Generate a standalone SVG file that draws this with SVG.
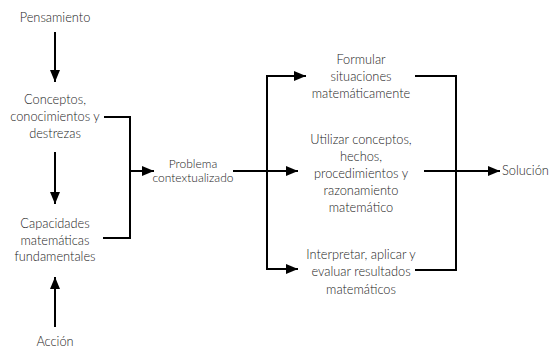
<svg xmlns="http://www.w3.org/2000/svg" width="549" height="349" viewBox="0 0 549 349">
  <defs>
    <marker id="ah" markerUnits="userSpaceOnUse" markerWidth="12" markerHeight="10" refX="12" refY="5" orient="auto">
      <path d="M0,0 L12,5 L0,10 z" fill="#000"/>
    </marker>
    <style>
      text { font-family: "Lato", "Open Sans", sans-serif; font-weight: 300; font-size: 12.8px; fill: #222; text-anchor: middle; }
      .sm { font-size: 12px; }
      .ln { fill: none; stroke: #000; stroke-width: 2; }
      .ar { fill: none; stroke: #000; stroke-width: 2; marker-end: url(#ah); }
    </style>
  </defs>
  <rect width="549" height="349" fill="#fff"/>

  <g id="pensamiento"><text x="55" y="22">Pensamiento</text></g>
  <g id="conceptos">
    <text x="55" y="104">Conceptos,</text>
    <text x="55" y="121">conocimientos y</text>
    <text x="55" y="138">destrezas</text>
  </g>
  <g id="capacidades">
    <text x="55" y="228">Capacidades</text>
    <text x="55" y="245">matemáticas</text>
    <text x="55" y="261">fundamentales</text>
  </g>
  <g id="accion"><text x="55" y="346">Acción</text></g>
  <g id="problema">
    <text class="sm" x="193" y="168">Problema</text>
    <text class="sm" x="193" y="182">contextualizado</text>
  </g>
  <g id="formular">
    <text x="361" y="64">Formular</text>
    <text x="361" y="81">situaciones</text>
    <text x="361" y="98">matemáticamente</text>
  </g>
  <g id="utilizar">
    <text x="361" y="144">Utilizar conceptos,</text>
    <text x="361" y="161">hechos,</text>
    <text x="361" y="178">procedimientos y</text>
    <text x="361" y="195">razonamiento</text>
    <text x="361" y="212">matemático</text>
  </g>
  <g id="interpretar">
    <text x="361" y="259">Interpretar, aplicar y</text>
    <text x="361" y="276">evaluar resultados</text>
    <text x="361" y="294">matemáticos</text>
  </g>
  <g id="solucion"><text x="502" y="175" style="text-anchor:start">Solución</text></g>

  <g id="connectors">
    <line class="ar" x1="55" y1="32" x2="55" y2="82"/>
    <line class="ar" x1="55" y1="152" x2="55" y2="204"/>
    <line class="ar" x1="55" y1="327" x2="55" y2="277"/>
    <polyline class="ln" points="104,117 130,117 130,238 103,238"/>
    <line class="ar" x1="130" y1="171" x2="154" y2="171"/>
    <line class="ln" x1="233" y1="171" x2="268" y2="171"/>
    <polyline class="ln" points="305,76 267,76 267,269 298,269"/>
    <line class="ar" x1="267" y1="76" x2="306" y2="76"/>
    <line class="ar" x1="267" y1="171" x2="298" y2="171"/>
    <line class="ar" x1="267" y1="269" x2="298" y2="269"/>
    <polyline class="ln" points="415,76 456,76 456,270 415,270"/>
    <line class="ar" x1="424" y1="171" x2="500" y2="171"/>
  </g>
</svg>
